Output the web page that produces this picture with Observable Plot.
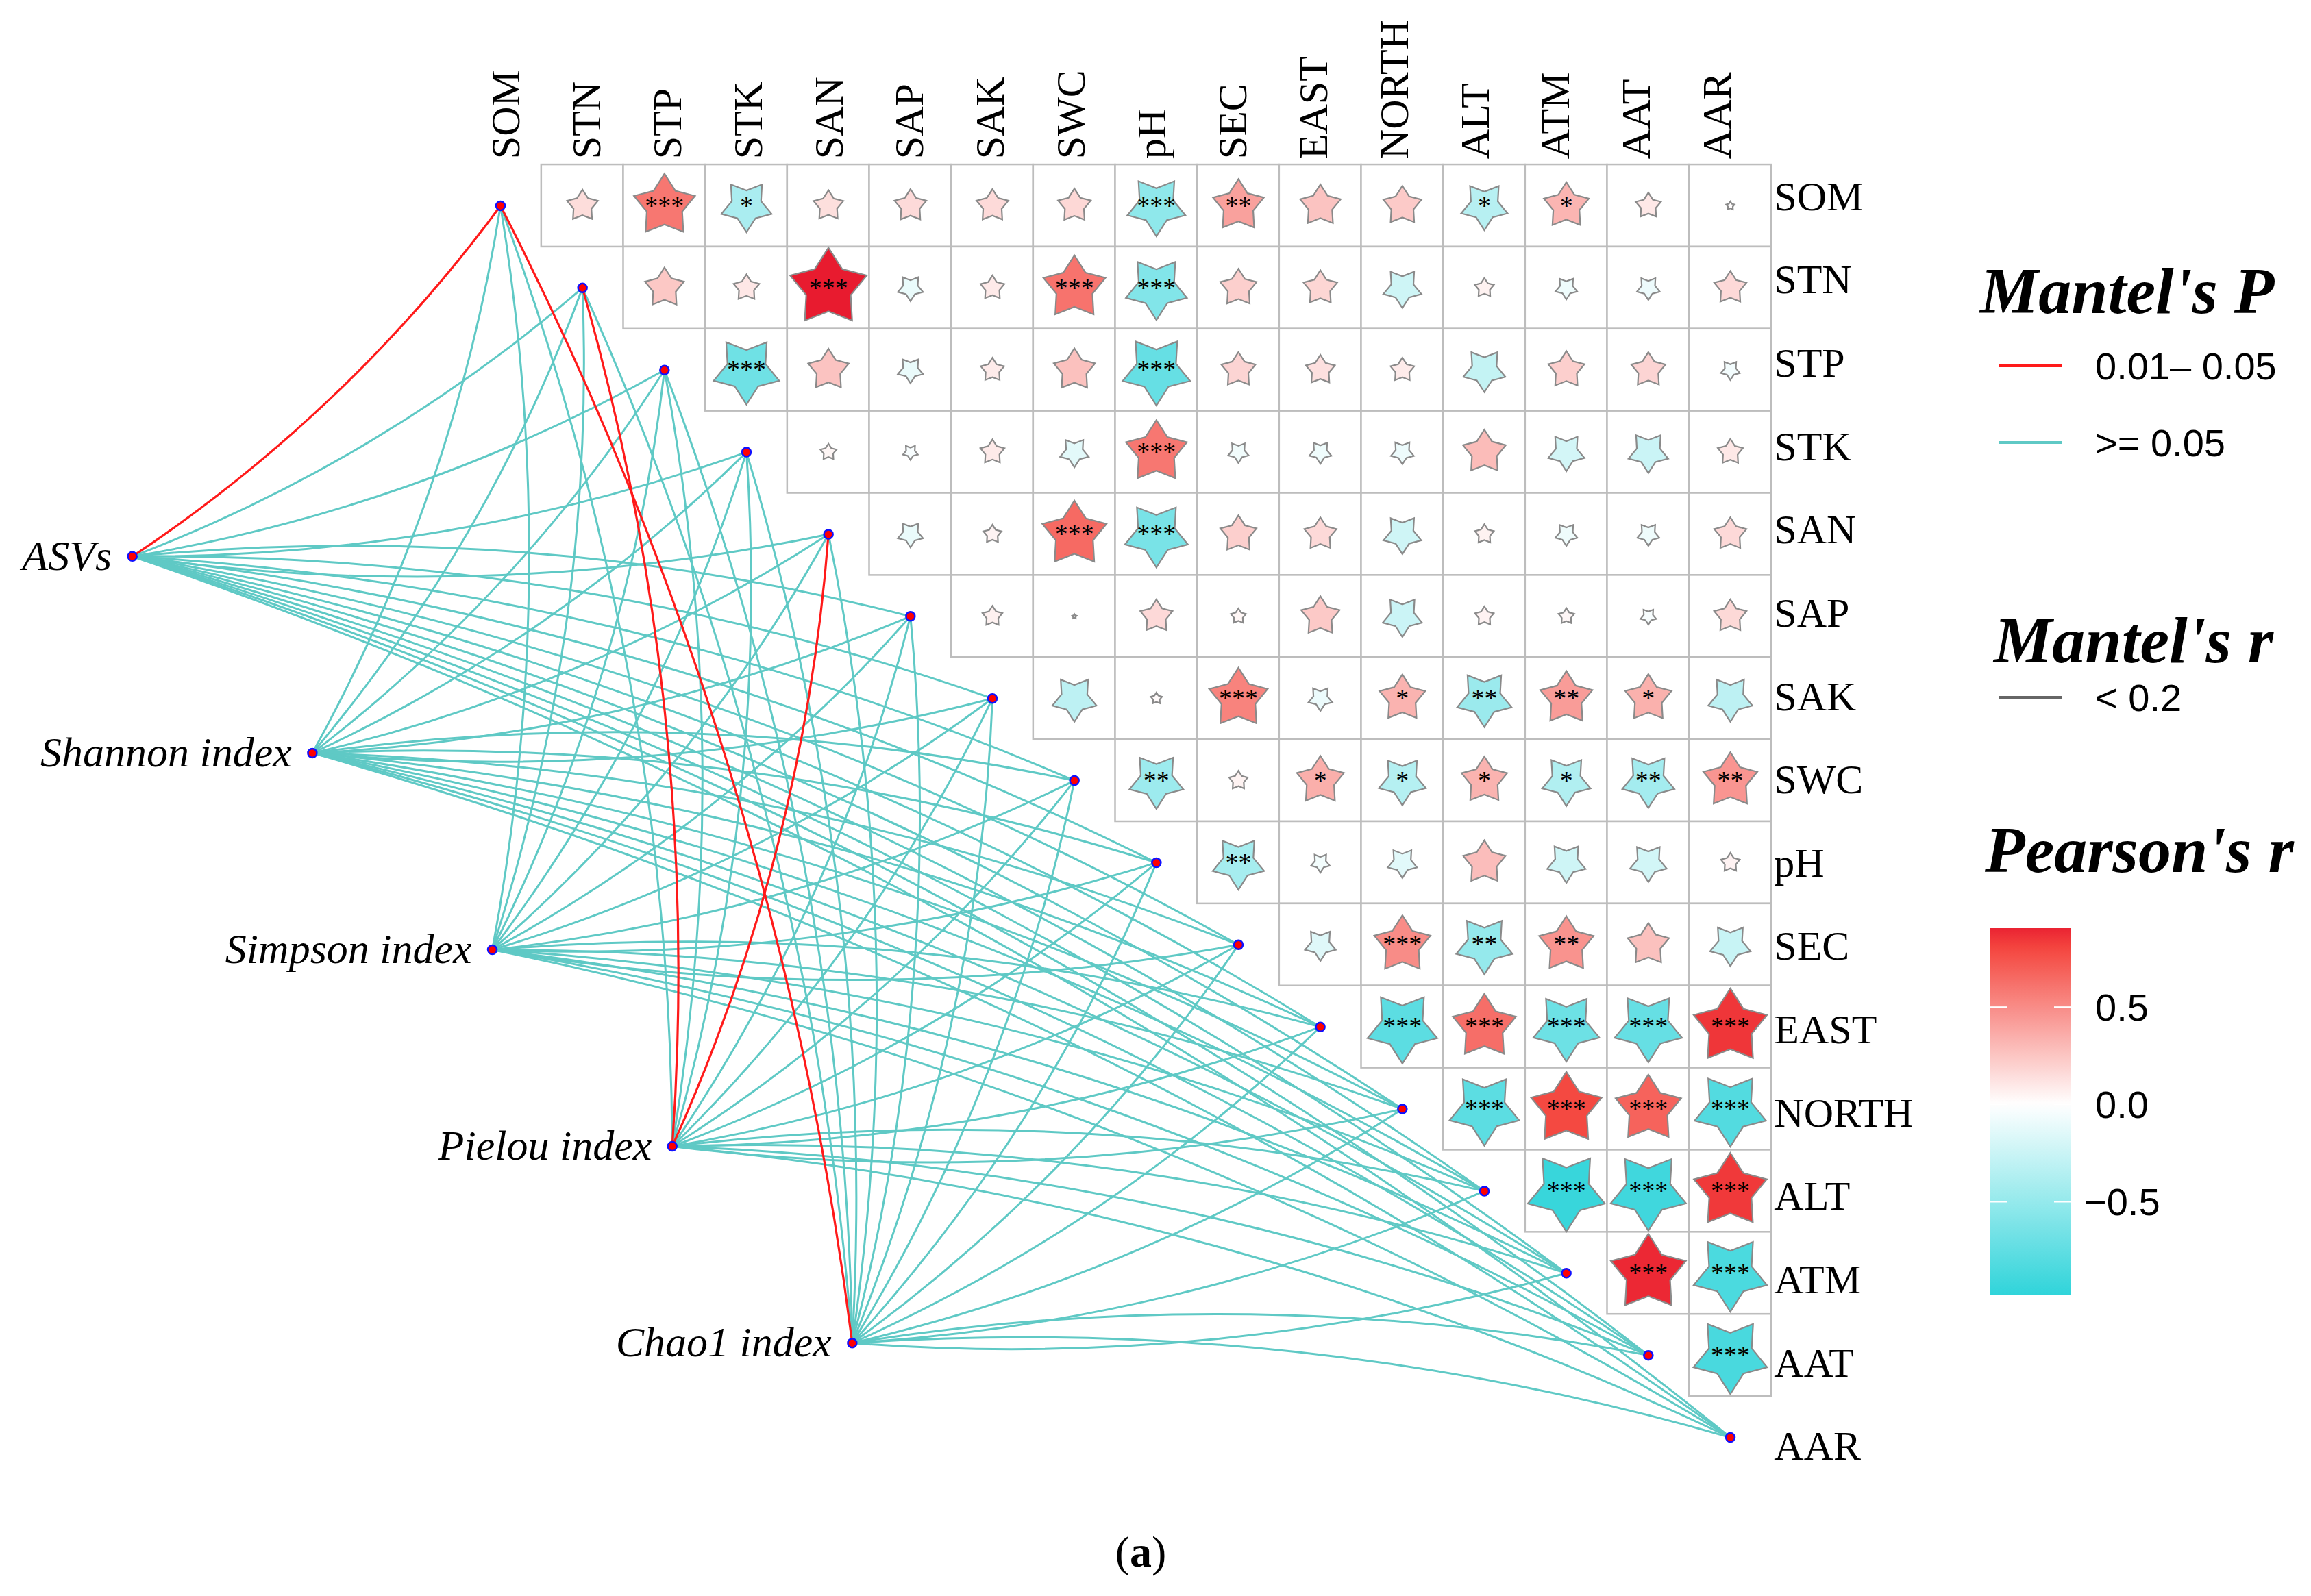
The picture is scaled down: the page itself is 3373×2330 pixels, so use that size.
<!DOCTYPE html>
<html><head><meta charset="utf-8">
<script src="https://cdn.jsdelivr.net/npm/d3@7"></script>
<script src="https://cdn.jsdelivr.net/npm/@observablehq/plot@0.6"></script>
<style>
html,body{margin:0;padding:0;background:#fff;}
#wrap{position:relative;width:3373px;height:2330px;overflow:hidden;background:#fff;}
#chart{position:absolute;left:0;top:0;}
#legend{position:absolute;left:0;top:0;}
#caption{position:absolute;left:0;width:3330px;top:2226px;text-align:center;font-family:"Liberation Serif",serif;font-size:64px;line-height:80px;}
</style></head>
<body><div id="wrap"><div id="chart"></div><svg id="legend" width="3373" height="2200"></svg><div id="caption">(<b>a</b>)</div></div>
<script>
// ---------------- data ----------------
const vars = ["SOM","STN","STP","STK","SAN","SAP","SAK","SWC","pH","SEC","EAST","NORTH","ALT","ATM","AAT","AAR"];
const indices = ["ASVs","Shannon index","Simpson index","Pielou index","Chao1 index"];

// Pearson's r, upper triangle: row i holds columns i+1 .. 15
const pearsonR = [
  [0.15, 0.59, -0.40, 0.14, 0.16, 0.16, 0.17, -0.53, 0.41, 0.26, 0.23, -0.34, 0.32, 0.10, 0.011],
  [0.24, 0.105, 0.93, -0.10, 0.09, 0.61, -0.59, 0.21, 0.18, -0.23, 0.057, -0.075, -0.083, 0.164],
  [-0.68, 0.26, -0.10, 0.086, 0.27, -0.72, 0.185, 0.133, 0.089, -0.28, 0.207, 0.185, -0.057],
  [0.041, -0.035, 0.092, -0.13, 0.59, -0.067, -0.077, -0.083, 0.29, -0.207, -0.25, 0.10],
  [-0.10, 0.052, 0.65, -0.63, 0.207, 0.164, -0.226, 0.057, -0.077, -0.077, 0.164],
  [0.063, 0.003, 0.164, 0.036, 0.234, -0.245, 0.056, 0.039, -0.039, 0.166],
  [-0.31, 0.02, 0.54, -0.09, 0.33, -0.47, 0.43, 0.34, -0.31],
  [-0.46, 0.054, 0.35, -0.35, 0.33, -0.37, -0.43, 0.46],
  [-0.42, -0.056, -0.135, 0.285, -0.233, -0.214, 0.056],
  [-0.15, 0.50, -0.50, 0.47, 0.27, -0.26],
  [-0.77, 0.63, -0.69, -0.72, 0.85],
  [-0.77, 0.79, 0.68, -0.81],
  [-0.94, -0.90, 0.84],
  [0.89, -0.85],
  [-0.86]
];
const pearsonSig = [
  ["","***","*","","","","","***","**","","","*","*","",""],
  ["","","***","","","***","***","","","","","","",""],
  ["***","","","","","***","","","","","","",""],
  ["","","","","***","","","","","","",""],
  ["","","***","***","","","","","","",""],
  ["","","","","","","","","",""],
  ["","","***","","*","**","**","*",""],
  ["**","","*","*","*","*","**","**"],
  ["**","","","","","",""],
  ["","***","**","**","",""],
  ["***","***","***","***","***"],
  ["***","***","***","***"],
  ["***","***","***"],
  ["***","***"],
  ["***"]
];

// Mantel's P class for each index vs each variable (order of vars)
const S = "0.01-0.05", N = ">=0.05";
const mantelP_ASVs    = [S,N,N,N,N,N,N,N,N,N,N,N,N,N,N,N];
const mantelP_Shannon = [N,N,N,N,N,N,N,N,N,N,N,N,N,N,N,N];
const mantelP_Simpson = [N,N,N,N,N,N,N,N,N,N,N,N,N,N,N,N];
const mantelP_Pielou  = [N,S,N,N,S,N,N,N,N,N,N,N,N,N,N,N];
const mantelP_Chao1   = [S,N,N,N,N,N,N,N,N,N,N,N,N,N,N,N];
const mantelP = [mantelP_ASVs, mantelP_Shannon, mantelP_Simpson, mantelP_Pielou, mantelP_Chao1];

// ---------------- layout (cell units) ----------------
const nodeStart = [-4.49, 4.27], nodeEnd = [4.29, 13.85];
const indexNodes = indices.map((name, k) => {
  const t = k / (indices.length - 1);
  return {name, x: nodeStart[0] + t * (nodeEnd[0] - nodeStart[0]), y: nodeStart[1] + t * (nodeEnd[1] - nodeStart[1])};
});
const colLabelX = j => 0.07 + 0.985 * j;
const rowLabelY = i => -0.11 + 1.015 * i;

const cells = [];
pearsonR.forEach((row, i) => row.forEach((r, k) => cells.push({i, j: i + 1 + k, r, sig: pearsonSig[i][k]})));

const edges = [];
indexNodes.forEach((n, k) => vars.forEach((v, j) => edges.push({x1: n.x, y1: n.y, x2: j, y2: j, cls: mantelP[k][j], up: j < n.y})));

const diag = vars.map((v, i) => ({v, i}));

const starSymbol = {
  draw(context, size) {
    const R = Math.sqrt(size / Math.PI), ri = R * 0.58;
    for (let k = 0; k < 10; k++) {
      const a = -Math.PI / 2 + k * Math.PI / 5, rr = k % 2 ? ri : R;
      const px = rr * Math.cos(a), py = rr * Math.sin(a);
      if (k === 0) context.moveTo(px, py); else context.lineTo(px, py);
    }
    context.closePath();
  }
};

const colorDomain = [-1, 0, 0.8, 0.95];
const colorRange = ["#2bd3d9", "#ffffff", "#f4473f", "#e6142c"];
const FONT = "'Liberation Serif', 'Times New Roman', serif";
const BEND = 10;
const cyanLine = "#5fc9c5", redLine = "#ff1a1a";

const linkMarks = [];
for (const [cls, color, w] of [[N, cyanLine, 3], [S, redLine, 3.2]]) {
  for (const up of [true, false]) {
    linkMarks.push(Plot.arrow(edges.filter(d => d.cls === cls && d.up === up), {
      x1: "x1", y1: "y1", x2: "x2", y2: "y2", bend: up ? -BEND : BEND, headLength: 0, stroke: color, strokeWidth: w
    }));
  }
}

const chart = Plot.plot({
  width: 3373, height: 2200,
  marginTop: 0, marginRight: 0, marginBottom: 0, marginLeft: 0,
  style: {fontFamily: FONT, background: "white"},
  x: {domain: [0, 15], range: [730, 2525], axis: null},
  y: {domain: [0, 15], range: [300, 2098], axis: null},
  r: {type: "sqrt", domain: [0, 1], range: [0, 61]},
  color: {type: "linear", domain: colorDomain, range: colorRange, interpolate: "rgb", clamp: true},
  marks: [
    Plot.rect(cells, {x1: d => d.j - 0.5, x2: d => d.j + 0.5, y1: d => d.i - 0.5, y2: d => d.i + 0.5, fill: "white", stroke: "#bdbdbd", strokeWidth: 2.5}),
    ...linkMarks,
    Plot.dot(cells, {x: "j", y: "i", r: d => Math.abs(d.r), fill: "r", rotate: d => d.r < 0 ? 180 : 0, symbol: starSymbol, stroke: "#8a8a8a", strokeWidth: 2.2}),
    Plot.text(cells.filter(d => d.sig), {x: "j", y: "i", text: "sig", fontSize: 38, fill: "black", fontFamily: FONT}),
    Plot.dot(diag, {x: "i", y: "i", r: 6.5, fill: "#ff0000", stroke: "#1010ff", strokeWidth: 2.5}),
    Plot.dot(indexNodes, {x: "x", y: "y", r: 6.5, fill: "#ff0000", stroke: "#1010ff", strokeWidth: 2.5}),
    Plot.text(diag, {x: d => colLabelX(d.i), y: -0.57, text: "v", rotate: -90, textAnchor: "start", lineAnchor: "middle", fontSize: 60, fill: "black"}),
    Plot.text(diag, {x: 15.5, y: d => rowLabelY(d.i), dx: 4, text: "v", textAnchor: "start", fontSize: 60, fill: "black"}),
    Plot.text(indexNodes, {x: "x", y: "y", dx: -30, text: "name", textAnchor: "end", fontSize: 62, fontStyle: "italic", fill: "black"})
  ]
});
document.getElementById("chart").appendChild(chart);

// ---------------- legend ----------------
let colorFn;
try { const sc = chart.scale("color"); colorFn = sc && sc.apply ? v => sc.apply(v) : null; } catch (e) { colorFn = null; }
if (!colorFn) { const s = d3.scaleLinear().domain(colorDomain).range(colorRange).clamp(true); colorFn = v => s(v); }

const leg = d3.select("#legend");
const SANS = "'Liberation Sans', Arial, sans-serif";
const title = (t, x, y) => leg.append("text").attr("x", x).attr("y", y).attr("font-family", FONT).attr("font-style", "italic").attr("font-weight", "bold").attr("font-size", 96).text(t);
const label = (t, x, y, size = 56) => leg.append("text").attr("x", x).attr("y", y).attr("dominant-baseline", "central").attr("font-family", SANS).attr("font-size", size).text(t);
const key = (c, y) => leg.append("line").attr("x1", 2917).attr("x2", 3009).attr("y1", y).attr("y2", y).attr("stroke", c).attr("stroke-width", 4);

title("Mantel's P", 2890, 457);
key(redLine, 534); label("0.01\u2013 0.05", 3058, 534);
key(cyanLine, 646); label(">= 0.05", 3058, 646);
title("Mantel's r", 2910, 967);
key("#666666", 1018); label("< 0.2", 3058, 1018);
title("Pearson's r", 2897, 1273);

const barTop = 0.905, barBot = -0.98, barY0 = 1355, barY1 = 1891, barX = 2905, barW = 117;
const grad = leg.append("defs").append("linearGradient").attr("id", "pg").attr("x1", 0).attr("x2", 0).attr("y1", 0).attr("y2", 1);
d3.range(0, 41).forEach(k => { const t = k / 40; grad.append("stop").attr("offset", t).attr("stop-color", colorFn(barTop + t * (barBot - barTop))); });
leg.append("rect").attr("x", barX).attr("y", barY0).attr("width", barW).attr("height", barY1 - barY0).attr("fill", "url(#pg)");
const vy = v => barY0 + (barTop - v) / (barTop - barBot) * (barY1 - barY0);
[0.5, 0, -0.5].forEach(v => {
  leg.append("line").attr("x1", barX).attr("x2", barX + 24).attr("y1", vy(v)).attr("y2", vy(v)).attr("stroke", "white").attr("stroke-width", 2);
  leg.append("line").attr("x1", barX + barW - 24).attr("x2", barX + barW).attr("y1", vy(v)).attr("y2", vy(v)).attr("stroke", "white").attr("stroke-width", 2);
});
label("0.5", 3058, vy(0.5)); label("0.0", 3058, vy(0)); label("\u22120.5", 3042, vy(-0.5));
</script>
</body></html>
